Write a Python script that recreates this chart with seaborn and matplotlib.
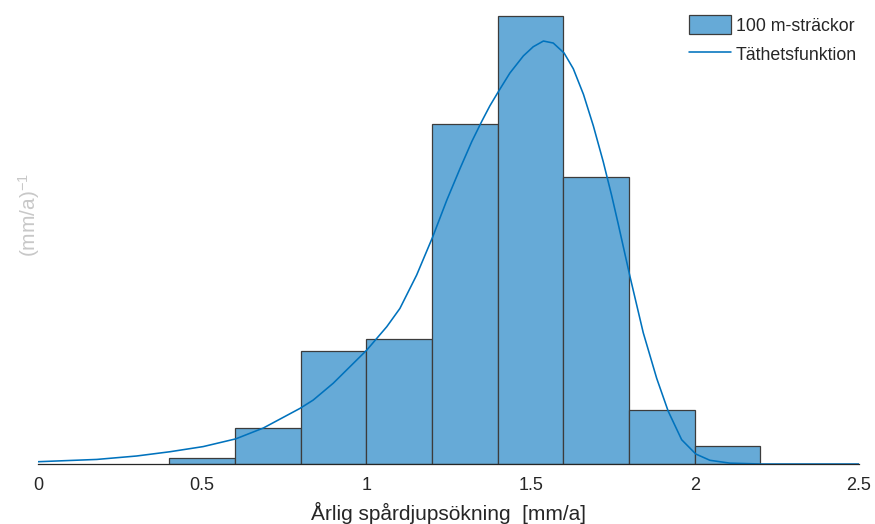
import numpy as np
import pandas as pd
import matplotlib
matplotlib.use("Agg")
import matplotlib.pyplot as plt
from matplotlib.patches import Patch
from matplotlib.lines import Line2D
import seaborn as sns

# Histogram of yearly rut-depth increase per 100 m section
bin_edges = [0.4, 0.6, 0.8, 1.0, 1.2, 1.4, 1.6, 1.8, 2.0, 2.2]
bin_counts = [1, 6, 19, 21, 57, 75, 48, 9, 3]

# Fitted density function, sampled along the x axis
curve_x = [0.000, 0.179, 0.300, 0.402, 0.503, 0.602, 0.686, 0.798, 0.838,
           0.899, 1.001, 1.062, 1.102, 1.153, 1.202, 1.245, 1.285, 1.321,
           1.351, 1.376, 1.402, 1.437, 1.478, 1.508, 1.539, 1.569, 1.602,
           1.630, 1.661, 1.691, 1.721, 1.747, 1.767, 1.803, 1.843, 1.884,
           1.919, 1.960, 2.003, 2.046, 2.107, 2.200, 2.350, 2.500]
curve_d = [0.008, 0.016, 0.028, 0.043, 0.061, 0.088, 0.126, 0.195, 0.224,
           0.283, 0.399, 0.481, 0.545, 0.662, 0.796, 0.925, 1.035, 1.130,
           1.200, 1.255, 1.305, 1.370, 1.430, 1.462, 1.482, 1.475, 1.440,
           1.385, 1.295, 1.185, 1.060, 0.940, 0.840, 0.655, 0.460, 0.300,
           0.185, 0.085, 0.035, 0.013, 0.003, 0.000, 0.000, 0.000]

x_ticks = [0, 0.5, 1, 1.5, 2, 2.5]
x_tick_labels = ["0", "0.5", "1", "1.5", "2", "2.5"]

sns.set_style("white")
plt.rcParams["font.family"] = ["Liberation Sans", "DejaVu Sans"]
plt.rcParams["mathtext.fontset"] = "custom"
plt.rcParams["mathtext.rm"] = "Liberation Sans"
plt.rcParams["mathtext.it"] = "Liberation Sans"

bar_face = "#66aad7"
bar_edge = "#3c3c3c"
line_col = "#0072bd"
text_col = "#262626"

fig = plt.figure(figsize=(8.75, 5.24), dpi=100)
ax = fig.add_axes([38 / 875, 60 / 524, 821 / 875, 456 / 524])

centers = [(a + b) / 2 for a, b in zip(bin_edges[:-1], bin_edges[1:])]
hist_df = pd.DataFrame({"x": centers, "n": bin_counts})
sns.histplot(data=hist_df, x="x", weights="n", bins=bin_edges, stat="density",
             color=bar_face, alpha=1.0, edgecolor=bar_edge, linewidth=0.9,
             ax=ax)

curve_df = pd.DataFrame({"x": curve_x, "d": curve_d})
sns.lineplot(data=curve_df, x="x", y="d", color=line_col, linewidth=1.15,
             ax=ax)

ax.set_xlim(0, 2.5)
ax.set_ylim(0, 456 / 285.4)

for side in ["top", "right", "left"]:
    ax.spines[side].set_visible(False)
ax.spines["bottom"].set_color(text_col)
ax.spines["bottom"].set_linewidth(0.9)

ax.set_yticks([])
ax.set_xticks(x_ticks)
ax.set_xticklabels(x_tick_labels)
ax.tick_params(axis="x", direction="in", length=5.8, width=0.8,
               color=text_col, labelcolor=text_col, labelsize=13, pad=9)

ax.set_xlabel("Årlig spårdjupsökning  [mm/a]", fontsize=15, color=text_col,
              labelpad=6)
ax.set_ylabel("(mm/a)$^{-1}$", fontsize=15, color="#c8c8c8")
ax.yaxis.set_label_coords(0.005, 0.546)

handles = [
    Patch(facecolor=bar_face, edgecolor=bar_edge, linewidth=0.9),
    Line2D([0], [0], color=line_col, linewidth=1.15),
]
ax.legend(handles, ["100 m-sträckor", "Täthetsfunktion"], loc="upper right",
          bbox_to_anchor=(1.006, 1.0), frameon=False, fontsize=12.8,
          handlelength=2.36, handleheight=1.3, handletextpad=0.28,
          labelspacing=0.55, borderaxespad=0.0, labelcolor=text_col)

fig.savefig("out.png", dpi=100)
